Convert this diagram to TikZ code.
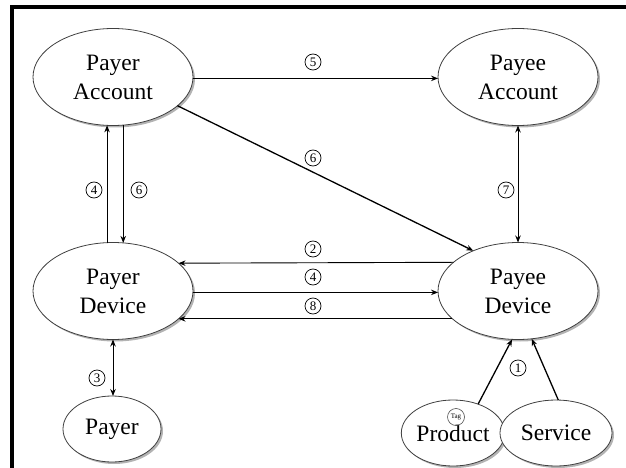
\documentclass[tikz,border=0pt]{standalone}
\usepackage{fontspec}
\setmainfont{Liberation Serif}
\usetikzlibrary{shapes.geometric,shadows,arrows.meta}
\begin{document}
\begin{tikzpicture}[x=1pt,y=-1pt,
  ell/.style={ellipse, draw=black!75, line width=0.8pt, fill=white, inner sep=0pt, outer sep=0pt,
    align=center, font=\fontsize{23.5}{29}\selectfont,
    drop shadow={shadow xshift=2pt, shadow yshift=-2pt, fill=black!50, opacity=0.6}},
  big/.style={ell, minimum width=160pt, minimum height=97pt},
  tip/.tip={Stealth[length=7pt,width=5.5pt]},
  arr/.style={-tip, line width=0.9pt},
  darr/.style={tip-tip, line width=0.9pt},
  thick arr/.style={-tip, line width=1.3pt},
  num/.style={circle, draw, line width=0.7pt, inner sep=0pt, minimum size=16pt, font=\fontsize{13}{13}\selectfont},
  tagc/.style={circle, draw=black!70, line width=0.6pt, minimum size=17pt, inner sep=0pt, font=\fontsize{7}{7}\selectfont}]
\useasboundingbox (0,0) rectangle (626,468);
\draw[line width=3.5pt] (12,468) -- (12,7) -- (626,7);

\node[big] (pa) at (113,77) {Payer\\Account};
\node[big] (pac) at (518,77) {Payee\\Account};
\node[big] (pd) at (113,291) {Payer\\Device};
\node[big] (pdv) at (518,291) {Payee\\Device};
\node[ell, minimum width=98pt, minimum height=66pt] (payer) at (112,429) {Payer};
\node[ell, minimum width=92pt, minimum height=66pt] (prod) at (453,433) {Product};
\node[ell, minimum width=112pt, minimum height=66pt] (serv) at (556,433) {Service};
\node[tagc] (tag) at (456,417) {Tag};

% connectors
\draw[thick arr] (pa.-1) -- (pac.181);
\draw[thick arr] (pa.-24.5) -- (pdv.138);
\draw[arr] (pd.97) -- (pa.263);
\draw[arr] (pa.282) -- (pd.78);
\draw[darr] (pac.south) -- (pdv.north);
\draw[arr] (pdv.156.8) -- (pd.23.2);
\draw[thick arr] (pd.-1) -- (pdv.181);
\draw[arr] (pdv.203.2) -- (pd.-23.2);
\draw[darr] (pd.south) -- (pd.south |- payer.north);
\draw[thick arr] (prod.49) -- (pdv.263);
\draw[thick arr] (serv.86) -- (pdv.286);

% labels
\node[num] (l5) at (313,62) {5};
\node[num] (l6a) at (313,158) {6};
\node[num] (l4a) at (94,190) {4};
\node[num] (l6b) at (139,190) {6};
\node[num] (l7) at (506,190) {7};
\node[num] (l2) at (313,249) {2};
\node[num] (l4b) at (313,277) {4};
\node[num] (l8) at (313,306) {8};
\node[num] (l3) at (97,378) {3};
\node[num] (l1) at (518,368) {1};
\end{tikzpicture}
\end{document}
